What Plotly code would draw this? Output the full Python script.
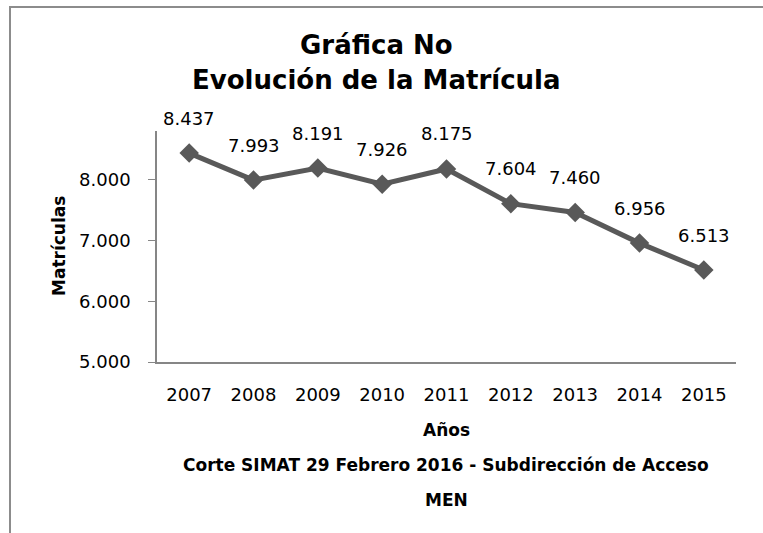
import plotly.graph_objects as go

years = ["2007", "2008", "2009", "2010", "2011", "2012", "2013", "2014", "2015"]
matriculas = [8437, 7993, 8191, 7926, 8175, 7604, 7460, 6956, 6513]
y_ticks = [5000, 6000, 7000, 8000]

W, H = 763, 533
L, R, T, B = 157, 27, 131, 171
pw, ph = W - L - R, H - T - B

def px(x):
    return (x - L) / pw

def py(y):
    return (H - B - y) / ph

FONT = "DejaVu Sans"

fig = go.Figure()
fig.add_trace(go.Scatter(
    x=years, y=matriculas, mode="lines+markers",
    line=dict(color="#595959", width=5),
    marker=dict(symbol="diamond", size=15, color="#595959"),
    hoverinfo="skip", showlegend=False,
))

for i, v in enumerate(matriculas):
    fig.add_annotation(x=i, y=v, text=f"{v:,}".replace(",", "."), showarrow=False,
                       xanchor="center", yanchor="middle",
                       yshift=35, font=dict(family=FONT, size=18, color="black"))

def txt(x, y, text, size, angle=0):
    fig.add_annotation(xref="paper", yref="paper", x=px(x), y=py(y), text=text,
                       xanchor="center", yanchor="middle", textangle=angle,
                       showarrow=False, font=dict(family=FONT, size=size, color="black"))

txt(376, 45, "<b>Gráfica No</b>", 26)
txt(376, 80, "<b>Evolución de la Matrícula</b>", 26)
txt(59, 246, "<b>Matrículas</b>", 17, -90)
txt(446, 430, "<b>Años</b>", 17)
txt(446, 465, "<b>Corte SIMAT 29 Febrero 2016 - Subdirección de Acceso</b>", 17)
txt(446, 500, "<b>MEN</b>", 17)

# outer border (left and top)
fig.add_shape(type="line", xref="paper", yref="paper", x0=px(10), x1=px(10), y0=py(7), y1=py(540),
              line=dict(color="#8c8c8c", width=2))
fig.add_shape(type="line", xref="paper", yref="paper", x0=px(9), x1=px(770), y0=py(7), y1=py(7),
              line=dict(color="#8c8c8c", width=2))

fig.update_layout(
    width=W, height=H, margin=dict(l=L, r=R, t=T, b=B),
    paper_bgcolor="white", plot_bgcolor="white",
    separators=",.",
    font=dict(family=FONT, size=18, color="black"),
    xaxis=dict(type="category", range=[-0.5, 8.5], showline=True, linecolor="#868686", linewidth=1.5,
               ticks="", showgrid=False, zeroline=False, ticklabelstandoff=16,
               tickfont=dict(family=FONT, size=18, color="black")),
    yaxis=dict(range=[5000, 8800], tickvals=y_ticks, tickformat=",.0f", showline=True,
               linecolor="#868686", linewidth=1.5, ticks="outside", ticklen=7, tickcolor="#868686",
               showgrid=False, zeroline=False, ticklabelstandoff=14,
               tickfont=dict(family=FONT, size=18, color="black")),
)

fig.write_html("out.html", config={"displayModeBar": False},
               post_script="document.body.style.margin='0';document.body.style.padding='0';")
